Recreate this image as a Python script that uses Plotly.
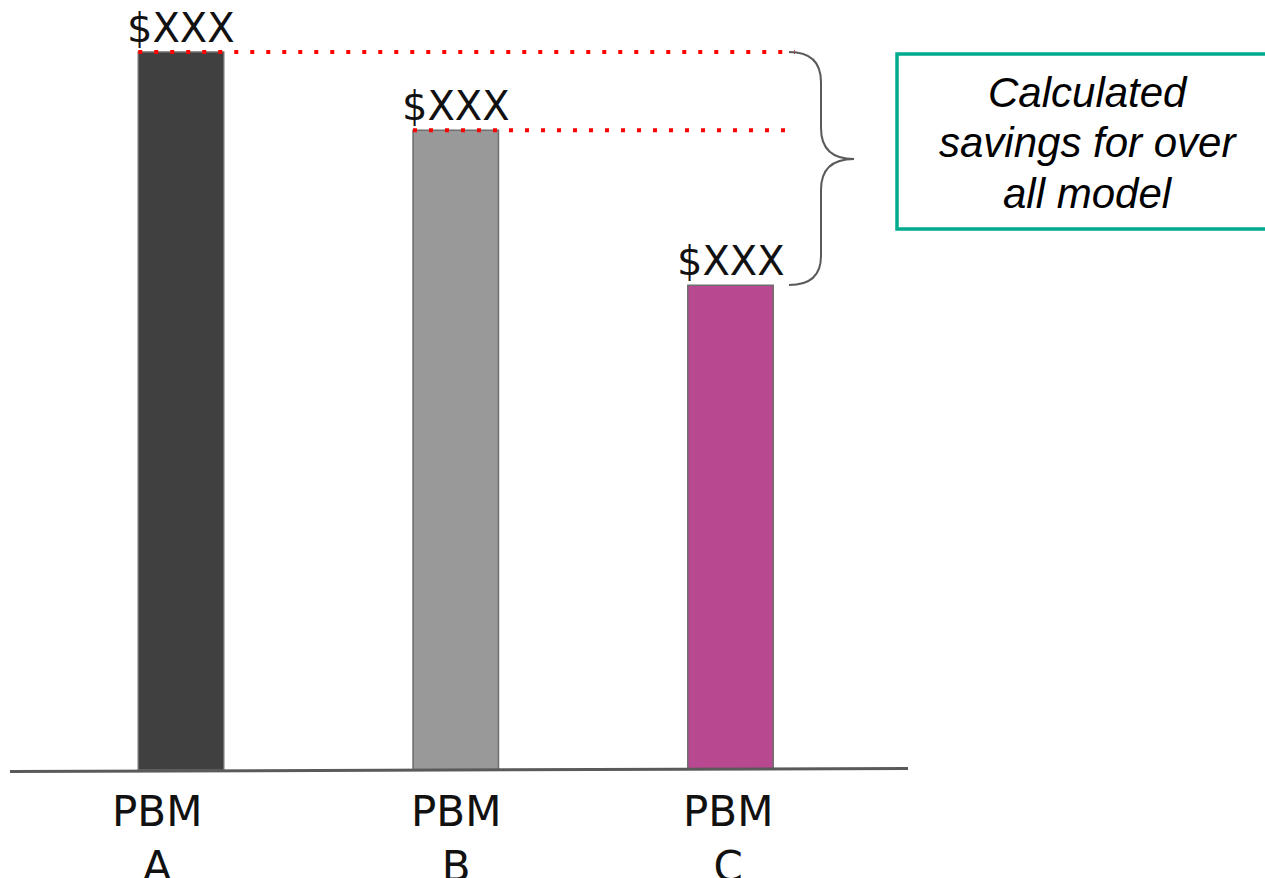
import plotly.graph_objects as go

# Data
categories = ["PBM<br>A", "PBM<br>B", "PBM<br>C"]
values = [100.0, 89.1, 67.5]
value_labels = ["$XXX", "$XXX", "$XXX"]
bar_colors = ["#404040", "#999999", "#b8488f"]
callout_lines = ["Calculated", "savings for over", "all model"]

W, H = 1265, 878
PLOT_H = 770          # plot area height (bottom margin holds the category labels)
SPACING = 274.75      # pixels between category centres
FIRST_X = 181         # pixel centre of the first category
BAR_W = 0.311         # bar width in category units

x_range = [-FIRST_X / SPACING, (W - FIRST_X) / SPACING]
y_range = [0, 107.24]


def px_x(px):
    return px / W


def px_y(py):
    return (PLOT_H - py) / PLOT_H


fig = go.Figure()
fig.add_trace(go.Bar(
    x=list(range(len(categories))),
    y=values,
    width=BAR_W,
    marker=dict(color=bar_colors, line=dict(color="#6e6e6e", width=1.5)),
    hoverinfo="skip",
))

shapes = []
# dotted guide lines from the top of the first two bars toward the brace
guide_ends = [(795 - FIRST_X) / SPACING, (785 - FIRST_X) / SPACING]
for i in range(2):
    shapes.append(dict(
        type="line", xref="x", yref="y",
        x0=i - BAR_W / 2, x1=guide_ends[i], y0=values[i], y1=values[i],
        line=dict(color="#ff0000", width=4, dash="4px,12px"),
        layer="above",
    ))

# curly brace spanning the highest and lowest bars
pts = [
    ("M", 789, 52), ("Q", 821, 52, 821, 82), ("L", 821, 128),
    ("Q", 821, 159, 854, 159), ("Q", 821, 159, 821, 190), ("L", 821, 256),
    ("Q", 821, 285, 789, 285),
]
path = ""
for p in pts:
    cmd, coords = p[0], p[1:]
    conv = []
    for j in range(0, len(coords), 2):
        conv.append(f"{px_x(coords[j]):.5f},{px_y(coords[j + 1]):.5f}")
    path += cmd + " " + " ".join(conv) + " "
shapes.append(dict(type="path", xref="paper", yref="paper", path=path.strip(),
                   line=dict(color="#5a5a5a", width=2)))

# baseline
shapes.append(dict(type="line", xref="paper", yref="paper",
                   x0=px_x(10), x1=px_x(908), y0=px_y(771.5), y1=px_y(768.5),
                   line=dict(color="#5a5a5a", width=3), layer="above"))

# callout box
shapes.append(dict(type="rect", xref="paper", yref="paper",
                   x0=px_x(897), x1=px_x(1275), y0=px_y(229), y1=px_y(54),
                   line=dict(color="#00aa8d", width=3.5)))

annotations = []
label_font = dict(family="DejaVu Sans", size=40, color="#111111")
for i, (v, t) in enumerate(zip(values, value_labels)):
    annotations.append(dict(x=i, y=v, xref="x", yref="y", text=t, showarrow=False,
                            yanchor="bottom", xanchor="center", yshift=-1,
                            font=label_font))

cat_shift = [-24, 0, -3]
for i, c in enumerate(categories):
    annotations.append(dict(x=i, y=0, xref="x", yref="y", text=c, showarrow=False,
                            yanchor="top", xanchor="center", yshift=-15,
                            xshift=cat_shift[i],
                            font=dict(family="DejaVu Sans", size=42, color="#111111")))

# callout text, one annotation per line for tight line spacing
for k, line in enumerate(callout_lines):
    annotations.append(dict(x=px_x(1088), y=px_y(92 + 50.5 * k), xref="paper", yref="paper",
                            text=f"<i>{line}</i>", showarrow=False, xanchor="center",
                            yanchor="middle", align="center",
                            font=dict(family="Liberation Sans", size=42, color="#000000")))

fig.update_layout(
    width=W, height=H,
    margin=dict(l=0, r=0, t=0, b=H - PLOT_H),
    paper_bgcolor="white", plot_bgcolor="white",
    showlegend=False,
    xaxis=dict(range=x_range, visible=False, fixedrange=True),
    yaxis=dict(range=y_range, visible=False, fixedrange=True),
    shapes=shapes,
    annotations=annotations,
)

fig.write_html("out.html")
